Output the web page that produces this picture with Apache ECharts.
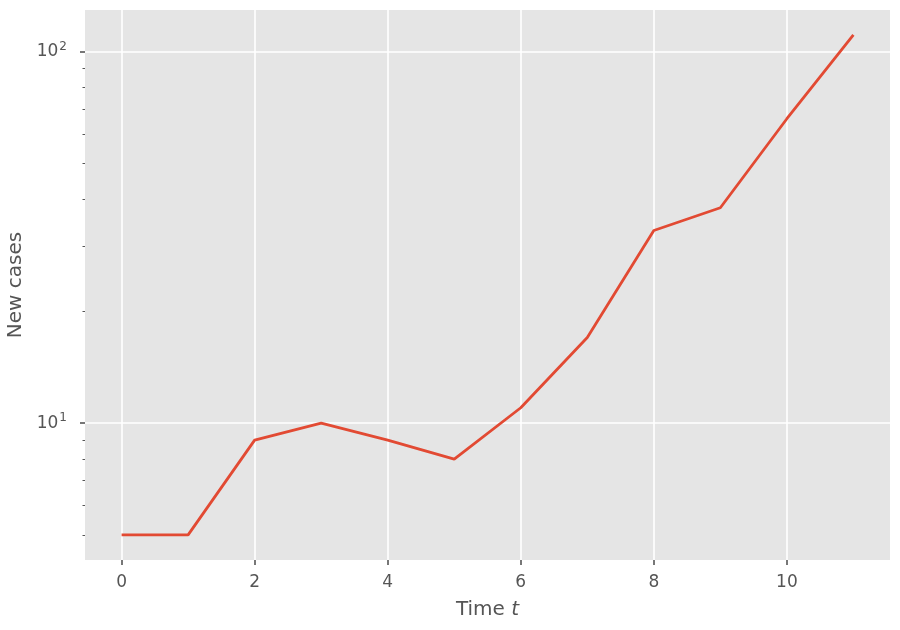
<!DOCTYPE html>
<html>
<head>
<meta charset="utf-8">
<script src="https://cdn.jsdelivr.net/npm/echarts@6/dist/echarts.min.js"></script>
<style>
html,body{margin:0;padding:0;background:#fff;}
#main{width:900px;height:630px;}
</style>
</head>
<body>
<div id="main"></div>
<script>
var times = [0, 1, 2, 3, 4, 5, 6, 7, 8, 9, 10, 11];
var newCases = [5, 5, 9, 10, 9, 8, 11, 17, 33, 38, 66, 111];
var xTicks = [0, 2, 4, 6, 8, 10];
var yMajorTicks = [10, 100];
var yMinorTicks = [5, 6, 7, 8, 9, 20, 30, 40, 50, 60, 70, 80, 90];
var supDigits = {10: '1', 100: '2'};

var chart = echarts.init(document.getElementById('main'), null, {renderer: 'canvas'});
var font = 'DejaVu Sans';
var grey = '#555555';

var option = {
  animation: false,
  grid: {left: 85, right: 10, top: 10, bottom: 70, show: true, backgroundColor: '#E5E5E5', borderWidth: 0,
    containLabel: false, outerBoundsMode: 'none'},
  xAxis: {
    type: 'value', min: -0.55, max: 11.55,
    axisLine: {show: false, onZero: false},
    axisTick: {show: true, customValues: xTicks, length: 5, lineStyle: {color: grey, width: 1.6}},
    axisLabel: {customValues: xTicks, color: grey, fontFamily: font, fontSize: 17, margin: 14},
    splitLine: {show: true, lineStyle: {color: '#ffffff', width: 1.6}},
    name: '{n|Time }{i|t}', nameLocation: 'middle', nameGap: 40,
    nameTextStyle: {color: grey, fontFamily: font, fontSize: 20,
      rich: {n: {color: grey, fontFamily: font, fontSize: 20}, i: {color: grey, fontFamily: font, fontSize: 20, fontStyle: 'italic'}}}
  },
  yAxis: [{
    type: 'log', logBase: 10, min: 4.28, max: 129.5, position: 'left',
    axisLine: {show: false, onZero: false},
    axisTick: {show: true, customValues: yMajorTicks, length: 5, lineStyle: {color: grey, width: 1.6}},
    axisLabel: {
      customValues: yMajorTicks, margin: 18,
      formatter: function (v) { return '{b|10}{s|' + (supDigits[Math.round(v)] || '') + '}'; },
      rich: {
        b: {color: grey, fontFamily: font, fontSize: 17, lineHeight: 22},
        s: {color: grey, fontFamily: font, fontSize: 12, verticalAlign: 'top', lineHeight: 14, padding: [0, 0, 0, 1]}
      }
    },
    splitLine: {show: true, lineStyle: {color: '#ffffff', width: 1.6}},
    name: 'New cases', nameLocation: 'middle', nameGap: 56, nameRotate: 90,
    nameTextStyle: {color: grey, fontFamily: font, fontSize: 20}
  }, {
    type: 'log', logBase: 10, min: 4.28, max: 129.5, position: 'left', offset: 0,
    axisLine: {show: false, onZero: false},
    axisTick: {show: true, customValues: yMinorTicks, length: 2.5, lineStyle: {color: grey, width: 1}},
    axisLabel: {show: false},
    splitLine: {show: false}
  }],
  series: [{
    type: 'line', yAxisIndex: 0,
    data: times.map(function (t, i) { return [t, newCases[i]]; }),
    showSymbol: false, symbol: 'none',
    lineStyle: {color: '#E24A33', width: 2.8}
  }]
};
chart.setOption(option);
</script>
</body>
</html>
